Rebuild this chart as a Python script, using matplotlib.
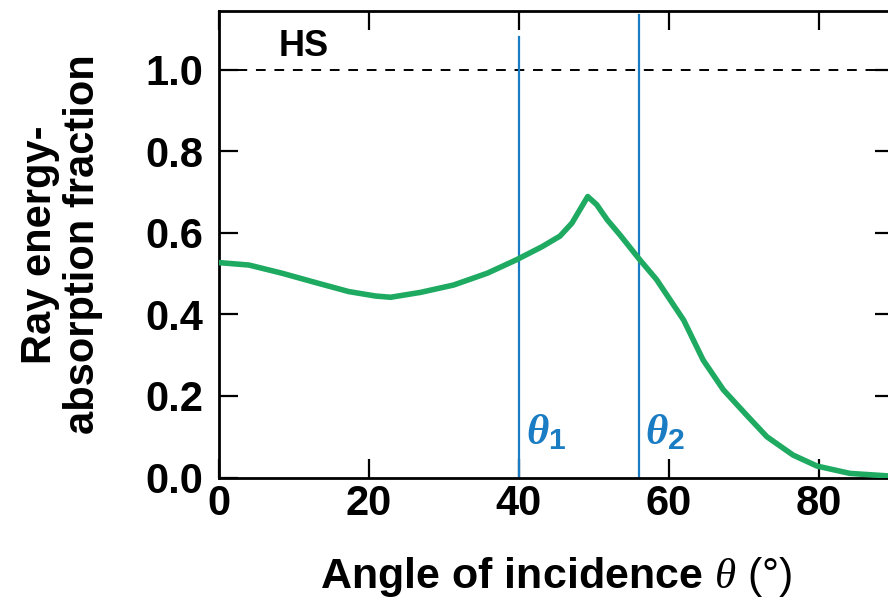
import matplotlib
matplotlib.use("Agg")
import matplotlib.pyplot as plt

# Absorbed fraction of ray energy versus angle of incidence
angle_deg = [0, 4.0, 8.4, 12.9, 17.3, 20.9, 22.9, 26.9, 31.3, 35.8, 39.7, 43.1,
             45.5, 47.1, 49.2, 50.4, 51.8, 53.5, 56.1, 58.4, 62.0, 64.6, 67.3,
             70.4, 73.1, 76.6, 79.8, 84.2, 90.0]
absorption = [0.527, 0.521, 0.501, 0.478, 0.456, 0.445, 0.442, 0.454, 0.472,
              0.501, 0.534, 0.566, 0.592, 0.624, 0.689, 0.669, 0.632, 0.595,
              0.535, 0.485, 0.386, 0.288, 0.215, 0.153, 0.100, 0.055, 0.028,
              0.010, 0.003]

hs_level = 1.0                      # HS reference level
theta_marks = [40, 56]              # characteristic angles theta_1, theta_2
theta_tops = [1.08, 1.135]
theta_names = [r"$\mathbfit{\theta}_{\mathbf{1}}$", r"$\mathbfit{\theta}_{\mathbf{2}}$"]

x_ticks = [0, 20, 40, 60, 80]
y_ticks = [0.0, 0.2, 0.4, 0.6, 0.8, 1.0]

GREEN = "#1faa62"
BLUE = "#1a7cc2"

plt.rcParams["font.family"] = ["Liberation Sans", "DejaVu Sans"]
plt.rcParams["font.weight"] = "bold"
plt.rcParams["mathtext.fontset"] = "custom"
plt.rcParams["mathtext.it"] = "Liberation Serif:italic:normal"
plt.rcParams["mathtext.bfit"] = "Liberation Serif:italic:bold"
plt.rcParams["mathtext.bf"] = "Liberation Sans:bold"
plt.rcParams["mathtext.rm"] = "Liberation Sans:normal"
plt.rcParams["mathtext.sf"] = "Liberation Sans:normal"

fig = plt.figure(figsize=(8.88, 6.04), dpi=100)
W, H = 888, 604
ax = fig.add_axes([219 / W, (H - 477.5) / H, 674.5 / W, 466.5 / H])

ax.plot(angle_deg, absorption, color=GREEN, lw=4.0, solid_joinstyle="round",
        solid_capstyle="round", zorder=3)
ax.axhline(hs_level, color="black", lw=1.4, dashes=(5, 4.5), zorder=2)
ax.text(11.3, 1.057, "HS", fontsize=26, fontweight="bold", ha="center", va="center")

for xm, top, name in zip(theta_marks, theta_tops, theta_names):
    ax.plot([xm, xm], [0, top], color=BLUE, lw=1.6, zorder=2)
    ax.text(xm + 0.9, 0.082, name, color=BLUE, fontsize=31, ha="left", va="baseline")

ax.set_xlim(0, 90)
ax.set_ylim(0, 1.144)
ax.set_xticks(x_ticks)
ax.set_yticks(y_ticks)
ax.set_yticklabels([f"{v:.1f}" for v in y_ticks])

for side in ax.spines.values():
    side.set_linewidth(2.0)
ax.tick_params(direction="in", length=14, width=1.6, top=True, right=True,
               labelsize=30, pad=11)
ax.tick_params(axis="x", pad=5)
for lab in ax.get_xticklabels() + ax.get_yticklabels():
    lab.set_fontweight("bold")

ax.set_xlabel(r"Angle of incidence $\theta$ $\mathsf{(°)}$", fontsize=31,
              fontweight="bold", labelpad=22)
ax.set_ylabel("Ray energy-\nabsorption fraction", fontsize=30, fontweight="bold",
              linespacing=1.1)
ax.yaxis.set_label_coords(-0.172, 0.5)

fig.savefig("out.png", dpi=100)
